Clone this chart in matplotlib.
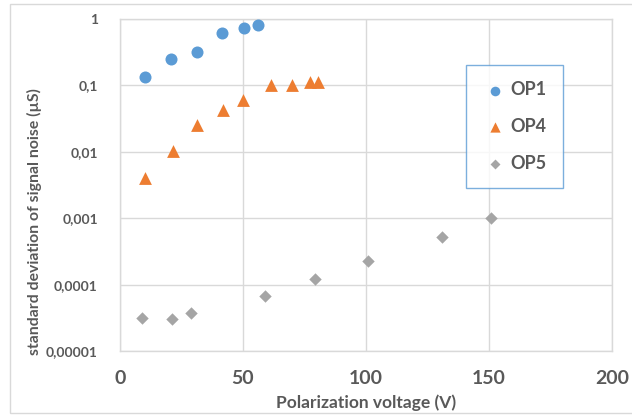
import matplotlib
matplotlib.use("Agg")
import matplotlib.pyplot as plt
from matplotlib.patches import Rectangle
from matplotlib.ticker import FixedLocator, FixedFormatter

# Data
op1_v = [10.2, 20.7, 31.3, 41.5, 50.4, 56.1]
op1_s = [0.132, 0.25, 0.32, 0.62, 0.74, 0.80]
op4_v = [10.2, 21.5, 31.3, 41.7, 50.1, 61.2, 69.9, 77.2, 80.5]
op4_s = [0.0041, 0.0102, 0.025, 0.043, 0.061, 0.100, 0.101, 0.113, 0.113]
op5_v = [8.8, 21.0, 28.9, 58.9, 79.3, 100.7, 131.0, 150.7]
op5_s = [3.16e-5, 3.05e-5, 3.7e-5, 6.7e-5, 1.22e-4, 2.3e-4, 5.2e-4, 1.0e-3]
yticks = [1e-5, 1e-4, 1e-3, 1e-2, 1e-1, 1]
ytick_labels = ["0,00001", "0,0001", "0,001", "0,01", "0,1", "1"]
xticks = [0, 50, 100, 150, 200]
xtick_labels = ["0", "50", "100", "150", "200"]

plt.rcParams['font.family'] = ['Lato', 'DejaVu Sans']
plt.rcParams['font.weight'] = 'bold'
txt = "#595959"
grid = "#d9d9d9"

fig = plt.figure(figsize=(6.32, 4.17), dpi=100)
fig.patches.append(Rectangle((10/632, 1-413/417), 1.0, (413-4)/417, transform=fig.transFigure,
                             fill=False, edgecolor="#d9d9d9", linewidth=1.0))
ax = fig.add_axes([120/632, 1-351/417, (612-120)/632, (351-19)/417])
ax.set_yscale('log')
ax.set_xlim(0, 200)
ax.set_ylim(1e-5, 1)

ax.scatter(op1_v, op1_s, marker='o', s=75, color="#5B9BD5", label="OP1", zorder=3, linewidths=0)
ax.scatter(op4_v, op4_s, marker='^', s=85, color="#ED7D31", label="OP4", zorder=3, linewidths=0)
ax.scatter(op5_v, op5_s, marker='D', s=40, color="#A5A5A5", label="OP5", zorder=3, linewidths=0)

ax.yaxis.set_major_locator(FixedLocator(yticks))
ax.yaxis.set_major_formatter(FixedFormatter(ytick_labels))
ax.yaxis.set_minor_locator(FixedLocator([]))
ax.xaxis.set_major_locator(FixedLocator(xticks))
ax.xaxis.set_major_formatter(FixedFormatter(xtick_labels))
ax.tick_params(axis='both', length=0, colors=txt)
ax.tick_params(axis='y', labelsize=10, pad=16)
ax.tick_params(axis='x', labelsize=14, pad=14)
ax.grid(True, color=grid, linewidth=1.0)
for sp in ax.spines.values():
    sp.set_color(grid)
    sp.set_linewidth(1.0)

fig.text(366/632, 1-403/417, "Polarization voltage (V)", fontsize=12.5, fontweight='bold',
         color=txt, ha='center', va='center')
fig.text(34.5/632, 1-222/417, "standard deviation of signal noise (µS)", fontsize=11.3,
         fontweight='bold', color=txt, ha='center', va='center', rotation=90)

leg = ax.legend(loc='upper left', bbox_to_anchor=(465.7/632, 1-65/417), bbox_transform=fig.transFigure,
                fancybox=False, frameon=True, prop={'family': 'Lato', 'weight': 'bold', 'size': 13},
                labelspacing=1.1, handletextpad=0.1, borderpad=0.9, handlelength=1.5,
                markerscale=0.8, borderaxespad=0)
leg.get_frame().set_edgecolor("#5B9BD5")
leg.get_frame().set_linewidth(1.0)
for t in leg.get_texts():
    t.set_color(txt)

fig.savefig("out.png", dpi=100)
